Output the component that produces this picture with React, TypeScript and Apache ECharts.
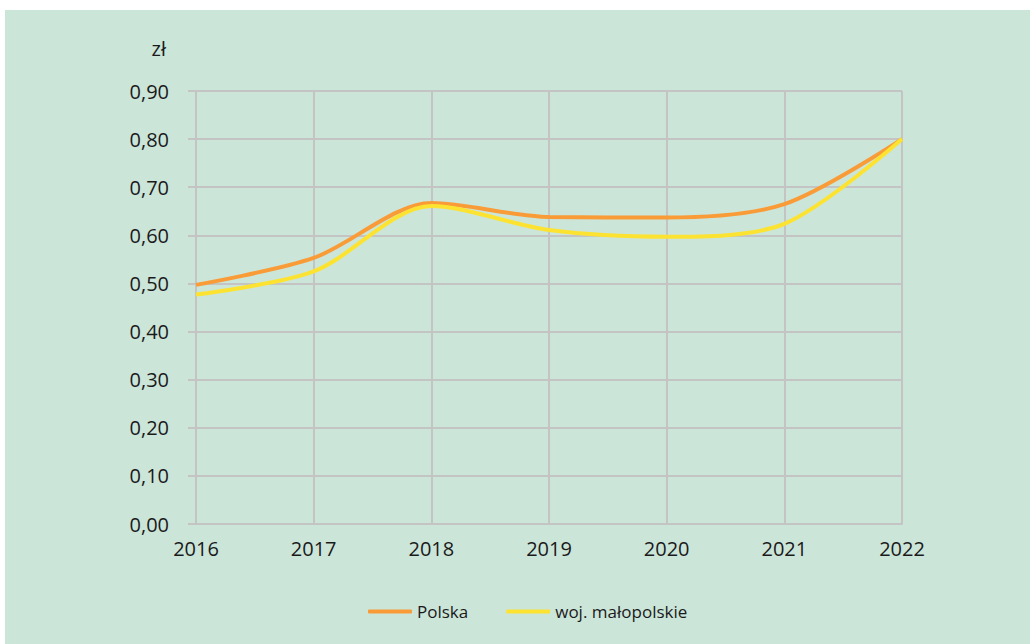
import React, { useEffect, useRef } from "react";
import * as echarts from "echarts";

const years = ["2016", "2017", "2018", "2019", "2020", "2021", "2022"];
const polska = [0.497, 0.553, 0.667, 0.638, 0.637, 0.665, 0.8];
const malopolskie = [0.477, 0.525, 0.661, 0.611, 0.597, 0.624, 0.8];
const seriesNames = ["Polska", "woj. małopolskie"];
const unitLabel = "zł";

const FONT = "'Open Sans', 'Noto Sans', sans-serif";

export default function App() {
  const ref = useRef<HTMLDivElement>(null);
  useEffect(() => {
    if (!ref.current) return;
    const chart = echarts.init(ref.current, null, { renderer: "svg" });
    chart.setOption({
      animation: false,
      backgroundColor: "transparent",
      textStyle: { fontFamily: FONT, color: "#1a1a1a" },
      grid: { left: 191, right: 128, top: 81, bottom: 120, containLabel: false },
      legend: {
        left: 358,
        top: 588,
        itemWidth: 44,
        itemHeight: 4,
        itemGap: 38,
        icon: "roundRect",
        textStyle: { fontSize: 17, color: "#1a1a1a", fontFamily: FONT },
        data: seriesNames,
      },
      graphic: [
        {
          type: "text",
          x: 161,
          y: 28,
          style: { text: unitLabel, font: `20px ${FONT}`, fill: "#1a1a1a", align: "right" },
        },
      ],
      xAxis: {
        type: "category",
        data: years,
        boundaryGap: false,
        axisLine: { show: true, lineStyle: { color: "#c4c4c4", width: 2 } },
        axisTick: { show: false },
        splitLine: { show: true, lineStyle: { color: "#c4c4c4", width: 2 } },
        axisLabel: { fontSize: 20, color: "#1a1a1a", margin: 14, fontFamily: FONT },
      },
      yAxis: {
        type: "value",
        min: 0,
        max: 0.9,
        interval: 0.1,
        axisLine: { show: false },
        axisTick: { show: true, length: 8, lineStyle: { color: "#c4c4c4", width: 2 } },
        splitLine: { show: true, lineStyle: { color: "#c4c4c4", width: 2 } },
        axisLabel: {
          fontSize: 20,
          color: "#1a1a1a",
          margin: 27,
          fontFamily: FONT,
          formatter: (v: number) => v.toFixed(2).replace(".", ","),
        },
      },
      series: [
        {
          name: seriesNames[0],
          type: "line",
          data: polska,
          smooth: 0.3,
          showSymbol: false,
          lineStyle: { color: "#f99c38", width: 4 },
          itemStyle: { color: "#f99c38" },
          z: 3,
        },
        {
          name: seriesNames[1],
          type: "line",
          data: malopolskie,
          smooth: 0.3,
          showSymbol: false,
          lineStyle: { color: "#fde331", width: 4 },
          itemStyle: { color: "#fde331" },
          z: 4,
        },
      ],
    });
    return () => chart.dispose();
  }, []);
  return (
    <div style={{ position: "absolute", left: 0, top: 0, width: 1030, height: 644, background: "#ffffff" }}>
      <div style={{ position: "absolute", left: 5, top: 10, width: 1025, height: 634, background: "#cce5d9" }}>
        <div ref={ref} style={{ width: 1025, height: 634 }} />
      </div>
    </div>
  );
}
